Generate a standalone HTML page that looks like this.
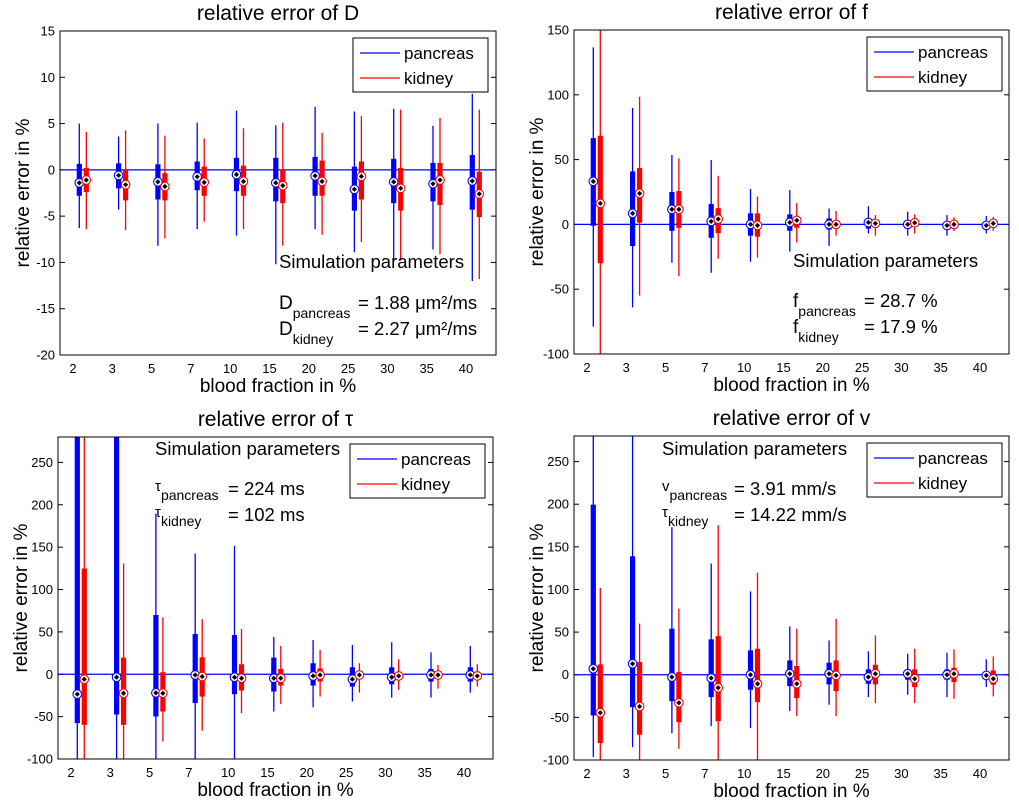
<!DOCTYPE html>
<html><head><meta charset="utf-8">
<style>
html,body{margin:0;padding:0;background:#fff;}
svg{display:block;font-family:"Liberation Sans",Arial,sans-serif;}
</style></head>
<body>
<svg id="fig" width="1019" height="806" viewBox="0 0 1019 806"></svg>
<script>
const categories = ["2","3","5","7","10","15","20","25","30","35","40"];
// each series: [low whisker, q1, median, q3, high whisker]; 999 / -999 = beyond axis
const D_pancreas = [[-6.3,-2.8,-1.4,0.65,5.0],[-4.3,-2.0,-0.6,0.7,3.6],[-8.2,-3.2,-1.3,0.6,5.0],[-6.4,-2.2,-0.75,0.9,5.1],[-7.1,-2.3,-0.5,1.3,6.4],[-10.2,-3.4,-1.4,1.3,4.8],[-6.4,-2.8,-0.65,1.4,6.8],[-8.9,-4.4,-2.1,0.35,6.3],[-9.8,-3.6,-1.3,1.2,6.6],[-8.6,-3.4,-1.5,0.75,4.75],[-12.0,-4.3,-1.2,1.6,8.2]];
const D_kidney = [[-6.4,-2.4,-1.1,0.2,4.1],[-6.5,-3.3,-1.6,0,4.25],[-7.4,-3.3,-1.8,-0.35,3.7],[-5.6,-2.8,-1.35,0.35,3.4],[-6.4,-2.8,-1.25,0.45,4.5],[-8.2,-3.6,-1.7,0,5.1],[-7.0,-2.8,-1.25,1.0,4.0],[-7.8,-3.2,-0.7,0.9,5.8],[-9.8,-4.4,-2.0,0.2,6.5],[-9.1,-3.8,-1.1,0.75,5.6],[-11.8,-5.1,-2.6,-0.2,6.5]];
const f_pancreas = [[-79,-1,33.2,66.6,136.6],[-64,-16.7,8.5,40.9,89.8],[-29.6,-4.9,11.6,25,53.5],[-37.3,-10.3,2.3,15.7,49.6],[-28.8,-8.7,0,8.5,27.3],[-21,-4.9,1.5,7.7,26.5],[-16.5,-4,0,4.6,12.3],[-7,-3.3,1.5,3.3,14],[-8.7,-2.8,0,2.8,9.8],[-8.7,-3.3,-0.8,2,7.2],[-7,-3.3,-0.8,1.3,6.4]];
const f_kidney = [[-999,-30,16.2,68.4,999],[-55,1.3,23.9,43.5,98.5],[-40,-2.6,11.6,25.7,51],[-26.5,-6.7,4.1,12.6,37.5],[-25.7,-9.5,-0.8,8.5,21.6],[-14,-2.6,3.1,5.9,16.5],[-8.7,-2.6,0,2.8,10.3],[-8.7,-2.6,0.8,2.8,7.2],[-7,-1.8,1.3,2.8,7.7],[-5,-2.6,0,2,5.4],[-5,-1.8,0.8,2.6,5.9]];
const tau_pancreas = [[-999,-57.7,-23.5,999,999],[-999,-47.5,-3.5,999,999],[-999,-49.8,-22,69.9,189.6],[-999,-34,-0.8,47.5,142.5],[-999,-23.5,-3.5,46.3,151.5],[-44,-20.4,-4.7,19.6,44],[-38.9,-13.3,-2,13,40.4],[-32.2,-14.5,-5.9,8.2,34.5],[-27.5,-11.8,-3.5,8.2,37.7],[-27.5,-8.6,-0.8,6.3,25.9],[-21.6,-8.6,-0.8,8.2,33.4]];
const tau_kidney = [[-999,-59.7,-5.9,124.8,999],[-999,-59.7,-22.4,19.6,130.7],[-79.3,-44,-22.4,2.4,67.1],[-66.7,-26.3,-2.7,20,65.1],[-45.9,-19.2,-4.7,11.8,53.4],[-35.3,-13.3,-4.7,6.3,33.4],[-26.3,-8.6,-0.8,7,28.6],[-21.6,-4.7,-0.8,4.3,13],[-18.4,-4.7,-2,3.1,17.7],[-16.9,-4.7,-0.8,3.1,11],[-14.5,-5.9,-2,3.1,11.8]];
const v_pancreas = [[-96.6,-47.7,7,199.5,999],[-84.9,-38,12.9,138.9,999],[-68.5,-31,-2.7,54,173],[-60.3,-26.2,-3.9,41.5,130.3],[-62.6,-17.6,0,28.6,97.8],[-42.6,-13.3,1.2,16.8,56.7],[-35.2,-11.3,1.2,14.1,40.3],[-26.2,-10.6,-2.7,6.3,27.4],[-23.5,-5.9,1.2,6.3,24.6],[-26.2,-5.9,0,6.3,25.8],[-14.5,-3.9,-0.8,3.1,18]];
const v_kidney = [[-999,-80.2,-44.6,12.1,101.7],[-999,-70.4,-37.2,14.9,59.9],[-86.9,-55.6,-32.9,3.1,77.5],[-999,-54.4,-15.3,45.4,175.3],[-999,-32.1,-10.6,30.5,119.7],[-48.5,-27.4,-10.6,10.2,54],[-48.5,-19.2,-0.8,16.8,65.7],[-33.3,-11.3,1.2,11.7,46.2],[-33.3,-14.5,-4.7,6.3,30.5],[-28.2,-8.6,1.2,8.2,29.7],[-25.4,-11.8,-4.7,5.1,21.5]];
const ticksD = [-20,-15,-10,-5,0,5,10,15];
const ticksF = [-100,-50,0,50,100,150];
const ticksT = [-100,-50,0,50,100,150,200,250];

const NS="http://www.w3.org/2000/svg";
const svg=document.getElementById('fig');
function el(tag,attrs,parent,text){const e=document.createElementNS(NS,tag);for(const k in attrs)e.setAttribute(k,attrs[k]);if(text!==undefined)e.textContent=text;(parent||svg).appendChild(e);return e;}

const panels=[
 {id:'d',L:60,T:31,W:436,H:324,ymin:-20,ymax:15,ticks:ticksD,p:D_pancreas,k:D_kidney,title:'relative error of D'},
 {id:'f',L:574,T:30,W:435,H:324,ymin:-100,ymax:150,ticks:ticksF,p:f_pancreas,k:f_kidney,title:'relative error of f'},
 {id:'tau',L:58,T:437,W:435,H:322,ymin:-100,ymax:280,ticks:ticksT,p:tau_pancreas,k:tau_kidney,title:'relative error of \u03C4'},
 {id:'v',L:574,T:436,W:435,H:324,ymin:-100,ymax:280,ticks:ticksT,p:v_pancreas,k:v_kidney,title:'relative error of v'}
];

panels.forEach((P,pi)=>{
 const g=el('g',{});
 
 
 const yS=v=>P.T+P.H-(v-P.ymin)/(P.ymax-P.ymin)*P.H;
 const xS=i=>P.L+13+i*39.3;
 const cid='clip'+pi;
 const cp=el('clipPath',{id:cid},g);el('rect',{x:P.L,y:P.T,width:P.W,height:P.H},cp);
 const t=el('text',{x:P.L+P.W/2,y:P.T-11,'text-anchor':'middle','font-size':21},g,P.title);
 
 P.ticks.forEach(v=>{const y=yS(v);
  const tl=el('text',{x:P.L-5,y:y+4.5,'text-anchor':'end','font-size':13},g,String(v));
  
  el('line',{x1:P.L,x2:P.L+5,y1:y,y2:y,stroke:'#000','stroke-width':1},g);
  el('line',{x1:P.L+P.W-5,x2:P.L+P.W,y1:y,y2:y,stroke:'#000','stroke-width':1},g);
 });
 categories.forEach((c,i)=>{
  const tl=el('text',{x:xS(i),y:P.T+P.H+18,'text-anchor':'middle','font-size':13},g,c);
  
 });
 const xl=el('text',{x:P.L+P.W/2,y:P.T+P.H+37,'text-anchor':'middle','font-size':19},g,'blood fraction in %');
 
 const yl=el('text',{x:0,y:0,'text-anchor':'middle','font-size':19,transform:`translate(${P.L-31},${P.T+P.H/2}) rotate(-90)`},g,'relative error in %');
 
 const dg=el('g',{'clip-path':`url(#${cid})`},g);
 el('line',{x1:P.L,x2:P.L+P.W,y1:yS(0),y2:yS(0),stroke:'#0000ff','stroke-width':1.2},dg);
 [[P.p,'#0000ff',6.3,'pancreas'],[P.k,'#ff0000',13.3,'kidney']].forEach(([ser,col,off,nm])=>{
  ser.forEach((d,i)=>{
   const x=xS(i)+off;
   const lo=Math.max(d[0],P.ymin-10),hi=Math.min(d[4],P.ymax+10);
   const q1=Math.max(d[1],P.ymin-10),q3=Math.min(d[3],P.ymax+10);
   const bx=el('g',{},dg);
   
   
   el('line',{x1:x,x2:x,y1:yS(lo),y2:yS(hi),stroke:col,'stroke-width':1.3},bx);
   el('rect',{x:x-2.6,y:yS(q3),width:5.2,height:yS(q1)-yS(q3),fill:col},bx);
   const ym=yS(d[2]);
   el('circle',{cx:x,cy:ym,r:4.3,fill:'#fff',stroke:col,'stroke-width':1.1},bx);
   el('path',{d:`M${x} ${ym-2.6}L${x+2.6} ${ym}L${x} ${ym+2.6}L${x-2.6} ${ym}Z`,fill:'#000'},bx);
  });
 });
 el('rect',{x:P.L,y:P.T,width:P.W,height:P.H,fill:'none',stroke:'#000','stroke-width':1},g);
});

[[353,38],[867,37],[350,444],[867,443]].forEach(([lx,ly],i)=>{
 const lg=el('g',{});
 
 
 el('rect',{x:lx,y:ly,width:135,height:54,fill:'#fff',stroke:'#000','stroke-width':1},lg);
 const e1=el('g',{},lg);
 el('line',{x1:lx+7,x2:lx+47,y1:ly+15,y2:ly+15,stroke:'#0000ff','stroke-width':1.2},e1);
 el('text',{x:lx+51,y:ly+21,'font-size':17},e1,'pancreas');
 const e2=el('g',{},lg);
 el('line',{x1:lx+7,x2:lx+47,y1:ly+40,y2:ly+40,stroke:'#ff0000','stroke-width':1.2},e2);
 el('text',{x:lx+51,y:ly+46,'font-size':17},e2,'kidney');
});

function ann2(x,y,syms,sub1,sub2,v1,v2,vx){
 const a=el('g',{});
 
 
 el('text',{x:x,y:y,'font-size':18.5},a,'Simulation parameters');
 const t1=el('text',{x:x,y:y+36,'font-size':15},a);
 el('tspan',{},t1,syms[0]);el('tspan',{dy:9,'font-size':14},t1,sub1);
 const t2=el('text',{x:x,y:y+62,'font-size':15},a);
 el('tspan',{},t2,syms[1]);el('tspan',{dy:9,'font-size':14},t2,sub2);
 el('text',{x:vx,y:y+40,'font-size':18.5},a,v1);
 el('text',{x:vx,y:y+66,'font-size':18.5},a,v2);
}
(function(){
 const a=el('g',{});
 el('text',{x:279,y:268,'font-size':18.5},a,'Simulation parameters');
 let t=el('text',{x:279,y:309,'font-size':19},a);el('tspan',{},t,'D');el('tspan',{dy:9,'font-size':14},t,'pancreas');
 t=el('text',{x:279,y:335,'font-size':19},a);el('tspan',{},t,'D');el('tspan',{dy:9,'font-size':14},t,'kidney');
 el('text',{x:358,y:309,'font-size':18.5},a,'= 1.88 \u03BCm\u00B2/ms');
 el('text',{x:358,y:335,'font-size':18.5},a,'= 2.27 \u03BCm\u00B2/ms');
})();
(function(){
 const a=el('g',{});
 el('text',{x:793,y:267,'font-size':18.5},a,'Simulation parameters');
 let t=el('text',{x:793,y:307,'font-size':19},a);el('tspan',{},t,'f');el('tspan',{dy:9,'font-size':14},t,'pancreas');
 t=el('text',{x:793,y:333,'font-size':19},a);el('tspan',{},t,'f');el('tspan',{dy:9,'font-size':14},t,'kidney');
 el('text',{x:864,y:307,'font-size':18.5},a,'= 28.7 %');
 el('text',{x:864,y:333,'font-size':18.5},a,'= 17.9 %');
})();
ann2(155,455,['\u03C4','\u03C4'],'pancreas','kidney','= 224 ms','= 102 ms',228);
ann2(662,455,['v','\u03C4'],'pancreas','kidney','=   3.91 mm/s','= 14.22 mm/s',734);
</script>
</body></html>
